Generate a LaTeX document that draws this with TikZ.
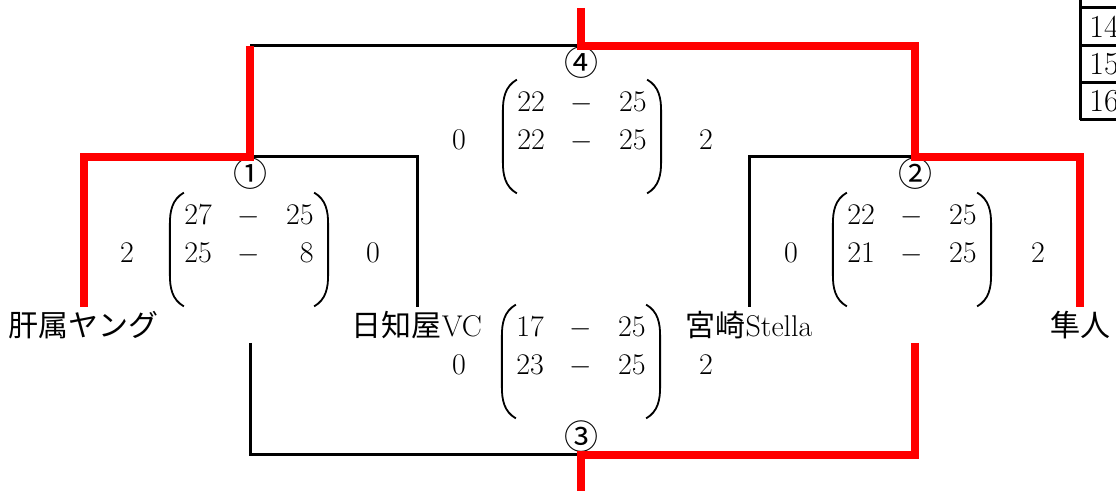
\documentclass[tikz,border=0pt]{standalone}
\usepackage{amsmath}
\usepackage{fontspec}
\newfontfamily\jp{Noto Sans CJK JP}
\usepackage{tikz}
\usetikzlibrary{positioning}
\usetikzlibrary{calc}

\begin{document}
\begin{tikzpicture}[x=0.5pt,y=-0.5pt,
  every node/.style={font=\fontsize{15}{19}\selectfont},
  win/.style={red,line width=4pt},
  lose/.style={black,line width=1.5pt},
  team/.style={anchor=base,inner sep=0pt,text height=15pt},
  circ/.style={inner sep=0pt,font=\fontsize{17}{19}\selectfont\jp},
  games/.style={anchor=base,inner sep=0pt,text height=16pt,text depth=40.5pt},
  paren/.style={line width=0.9pt},
  pts/.style={anchor=base,inner sep=0pt},
  cell/.style={anchor=west,inner sep=0pt,font=\fontsize{16}{19}\selectfont}]
\useasboundingbox (0,0) rectangle (1116,491);
\clip (0,0) rectangle (1116,491);

% teams
\node[team] (t1) at (84,337) {{\jp 肝属ヤング}};
\node[team] (t2) at (417,337) {{\jp 日知屋}VC};
\node[team] (t3) at (749,337) {{\jp 宮崎}Stella};
\node[team] (t4) at (1080,337) {{\jp 隼人}};

% junctions
\coordinate (m1) at (250,157);
\coordinate (m2) at (915,157);
\coordinate (m3) at (581,455);
\coordinate (m4) at (581,46);
\coordinate (top) at (581,8);
\coordinate (bot) at (581,495);
\coordinate (l3) at (250,343);
\coordinate (r3) at (915,343);

\node[circ] (n1) at (250,174) {①};
\node[circ] (n2) at (915,174) {②};
\node[circ] (n3) at (581,437) {③};
\node[circ] (n4) at (581,63) {④};

% brackets
\draw[lose] (m1) -| (t2.north);
\draw[lose] (t3.north) |- (m2);
\draw[lose] (m1 |- m4) -- (m4);
\draw[lose] (l3) |- (m3);
\draw[win] (t1.north) |- (m1) -- (m1 |- m4);
\draw[win] (top) -- (m4) -| (m2) -| (t4.north);
\draw[win] (r3) |- (m3) -- (bot);

% set scores
\node[games] (g1) at (249,225) {\begin{tabular}[t]{@{\hspace{7pt}}r@{\hspace{13pt}}c@{\hspace{13pt}}r@{\hspace{7pt}}}27&$-$&25\\25&$-$&8\end{tabular}};
\node[games] (g2) at (912,225) {\begin{tabular}[t]{@{\hspace{7pt}}r@{\hspace{13pt}}c@{\hspace{13pt}}r@{\hspace{7pt}}}22&$-$&25\\21&$-$&25\end{tabular}};
\node[games] (g3) at (581,337) {\begin{tabular}[t]{@{\hspace{7pt}}r@{\hspace{13pt}}c@{\hspace{13pt}}r@{\hspace{7pt}}}17&$-$&25\\23&$-$&25\end{tabular}};
\node[games] (g4) at (582,112) {\begin{tabular}[t]{@{\hspace{7pt}}r@{\hspace{13pt}}c@{\hspace{13pt}}r@{\hspace{7pt}}}22&$-$&25\\22&$-$&25\end{tabular}};

\foreach \g in {g1,g2,g3,g4} {
  \draw[paren] ([xshift=7pt]\g.north west) to[out=210,in=90] ([yshift=-16pt]\g.north west)
    -- ([yshift=16pt]\g.south west) to[out=-90,in=150] ([xshift=7pt]\g.south west);
  \draw[paren] ([xshift=-7pt]\g.north east) to[out=-30,in=90] ([yshift=-16pt]\g.north east)
    -- ([yshift=16pt]\g.south east) to[out=-90,in=30] ([xshift=-7pt]\g.south east);
}

\node[pts] (p1a) at (127,263) {2};
\node[pts] (p1b) at (373,263) {0};
\node[pts] (p2a) at (791,263) {0};
\node[pts] (p2b) at (1038,263) {2};
\node[pts] (p3a) at (459,375) {0};
\node[pts] (p3b) at (706,375) {2};
\node[pts] (p4a) at (459,150) {0};
\node[pts] (p4b) at (706,150) {2};

% table
\draw[line width=1.5pt] (1080,-40) -- (1080,120);
\foreach \y in {8,46,83,120}
  \draw[line width=1.5pt] (1080,\y) -- (1130,\y);
\node[cell] (r13) at (1089,-11) {13};
\node[cell] (r14) at (1089,27) {14};
\node[cell] (r15) at (1089,64) {15};
\node[cell] (r16) at (1089,101) {16};
\end{tikzpicture}
\end{document}
